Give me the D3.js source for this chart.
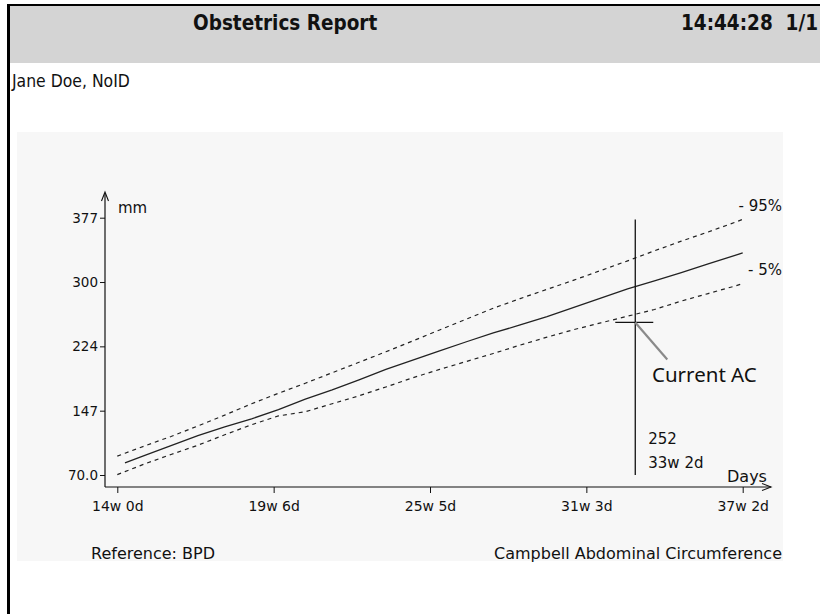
<!DOCTYPE html>
<html>
<head>
<meta charset="utf-8">
<script src="https://cdn.jsdelivr.net/npm/d3@7"></script>
<style>
  html, body { margin: 0; padding: 0; background: #fff; }
  svg { display: block; }
</style>
</head>
<body>
<svg id="chart" width="820" height="614"></svg>
<script>
// ---- data ----
const days = [98, 100, 105, 112, 119, 126, 133, 140, 147, 154, 161, 168, 175, 182, 189, 196, 203, 210, 217, 224, 231, 238, 245, 252, 259, 261];
const p95  = [92.5, 96, 104.5, 116, 128.5, 141.5, 155, 167.5, 179.5, 192, 204.5, 217, 230, 243, 256, 269, 280.5, 291.5, 302.5, 314, 325.5, 337.5, 349, 360, 371.5, 375];
const p50  = [null, 84.5, 93, 105, 117, 127.5, 137, 148, 160.5, 171.5, 183.5, 196, 207, 218, 229, 239.5, 249, 259, 270, 281, 292, 301.5, 311.5, 322, 332, 335];
const p5   = [70.5, 74, 83, 94.5, 105.5, 118, 130, 140.5, 145.5, 155, 164.5, 175, 186, 196, 205.5, 215, 225, 234.5, 243.5, 251.5, 259.5, 267.5, 277.5, 286.5, 295.5, 298.5];

const xTickDays   = [98, 138.75, 179.5, 220.25, 261];
const xTickLabels = ["14w 0d", "19w 6d", "25w 5d", "31w 3d", "37w 2d"];
const yTickValues = [70, 146.75, 223.5, 300.25, 377];
const yTickLabels = ["70.0", "147", "224", "300", "377"];

const currentDay = 233;          // 33w 2d
const currentValue = 252;        // mm
const currentLabel = ["252", "33w 2d"];
const currentLineTop = 375;      // mm, top of the vertical cursor line

const headerTitle = "Obstetrics Report";
const headerTime = "14:44:28";
const headerPage = "1/1";
const patient = "Jane Doe, NoID";
const footLeft = "Reference: BPD";
const footRight = "Campbell Abdominal Circumference";

// ---- drawing ----
const svg = d3.select("#chart");
const chartFont = "'DejaVu Sans', Verdana, sans-serif";
const condFont = "'DejaVu Sans Condensed', 'DejaVu Sans', sans-serif";

// page border + header band
svg.append("rect").attr("x", 10).attr("y", 6).attr("width", 810).attr("height", 57).attr("fill", "#d4d4d4");
svg.append("rect").attr("x", 7).attr("y", 4).attr("width", 813).attr("height", 2).attr("fill", "#000");
svg.append("rect").attr("x", 7).attr("y", 4).attr("width", 3).attr("height", 610).attr("fill", "#000");

const hdr = (txt, xx, anchor) => svg.append("text").attr("x", xx).attr("y", 30)
  .attr("text-anchor", anchor || "start")
  .attr("font-family", condFont).attr("font-stretch", "condensed").attr("font-weight", "bold")
  .attr("font-size", 20.5).attr("fill", "#111").text(txt);
hdr(headerTitle, 193);
hdr(headerTime, 681);
hdr(headerPage, 818, "end");

svg.append("text").attr("x", 12).attr("y", 87)
  .attr("font-family", condFont).attr("font-stretch", "condensed")
  .attr("font-size", 17.4).attr("fill", "#111").text(patient);

// chart panel
svg.append("rect").attr("x", 17).attr("y", 132).attr("width", 766).attr("height", 429).attr("fill", "#f7f7f7");

const x = d3.scaleLinear().domain([98, 261]).range([117.3, 742.7]);
const y = d3.scaleLinear().domain([70, 377]).range([475, 217.7]);
const axisX0 = 105, axisY0 = 487;

const g = svg.append("g").attr("font-family", chartFont).attr("fill", "#111");

// y axis
g.append("line").attr("x1", axisX0).attr("x2", axisX0).attr("y1", axisY0).attr("y2", 193)
  .attr("stroke", "#111").attr("stroke-width", 1.2);
g.append("path").attr("d", `M${axisX0 - 3.5},${201} L${axisX0},${192} L${axisX0 + 3.5},${201}`)
  .attr("fill", "none").attr("stroke", "#111").attr("stroke-width", 1.1);
const yAxis = d3.axisLeft(y).tickValues(yTickValues).tickSize(5).tickPadding(2)
  .tickFormat((d, i) => yTickLabels[i]);
const ya = g.append("g").attr("transform", `translate(${axisX0},0)`).call(yAxis);
ya.select(".domain").remove();
ya.selectAll("line").attr("stroke", "#111");
ya.selectAll("text").attr("font-family", chartFont).attr("font-size", 13.5).attr("fill", "#111");

// x axis
g.append("line").attr("x1", axisX0).attr("x2", 771).attr("y1", axisY0).attr("y2", axisY0)
  .attr("stroke", "#111").attr("stroke-width", 1.2);
g.append("path").attr("d", `M${762},${483.5} L${771},${axisY0} L${762},${490.5}`)
  .attr("fill", "none").attr("stroke", "#111").attr("stroke-width", 1.1);
const xAxis = d3.axisBottom(x).tickValues(xTickDays).tickSize(6).tickPadding(8)
  .tickFormat((d, i) => xTickLabels[i]);
const xa = g.append("g").attr("transform", `translate(0,${axisY0})`).call(xAxis);
xa.select(".domain").remove();
xa.selectAll("line").attr("stroke", "#111");
xa.selectAll("text").attr("font-family", chartFont).attr("font-size", 14).attr("fill", "#111");

// unit labels
g.append("text").attr("x", 118).attr("y", 212.5).attr("font-size", 15).text("mm");
g.append("text").attr("x", 727).attr("y", 482).attr("font-size", 16).text("Days");

// series
const line = d3.line().defined(d => d[1] != null).x(d => x(d[0])).y(d => y(d[1]));
const toPts = arr => days.map((d, i) => [d, arr[i]]);
g.append("path").datum(toPts(p95)).attr("d", line).attr("fill", "none")
  .attr("stroke", "#222").attr("stroke-width", 1.2).attr("stroke-dasharray", "4,4");
g.append("path").datum(toPts(p5)).attr("d", line).attr("fill", "none")
  .attr("stroke", "#222").attr("stroke-width", 1.2).attr("stroke-dasharray", "4,4");
g.append("path").datum(toPts(p50)).attr("d", line).attr("fill", "none")
  .attr("stroke", "#222").attr("stroke-width", 1.3);

// percentile labels
const last = days.length - 1;
g.append("text").attr("x", 782).attr("y", y(p95[last]) - 8).attr("text-anchor", "end").attr("font-size", 15).text("- 95%");
g.append("text").attr("x", 782).attr("y", y(p5[last]) - 8).attr("text-anchor", "end").attr("font-size", 15).text("- 5%");

// current measurement cursor
const cx = x(currentDay), cy = y(currentValue);
g.append("line").attr("x1", cx).attr("x2", cx).attr("y1", y(70)).attr("y2", y(currentLineTop))
  .attr("stroke", "#111").attr("stroke-width", 1.3);
g.append("line").attr("x1", cx - 20).attr("x2", cx + 18).attr("y1", cy).attr("y2", cy)
  .attr("stroke", "#111").attr("stroke-width", 1.3);
g.append("text").attr("x", cx + 13).attr("y", 443.5).attr("font-size", 15).text(currentLabel[0]);
g.append("text").attr("x", cx + 13).attr("y", 468).attr("font-size", 15).text(currentLabel[1]);

// annotation
svg.append("line").attr("x1", cx).attr("y1", cy).attr("x2", cx + 32).attr("y2", cy + 37)
  .attr("stroke", "#8a8a8a").attr("stroke-width", 2.2);
svg.append("text").attr("x", 652).attr("y", 381.5)
  .attr("font-family", "'Noto Sans', 'Open Sans', sans-serif").attr("font-size", 20.5)
  .attr("fill", "#111").text("Current AC");

// footer labels
g.append("text").attr("x", 91).attr("y", 559).attr("font-size", 16).text(footLeft);
g.append("text").attr("x", 782).attr("y", 559).attr("text-anchor", "end").attr("font-size", 16).text(footRight);
</script>
</body>
</html>
